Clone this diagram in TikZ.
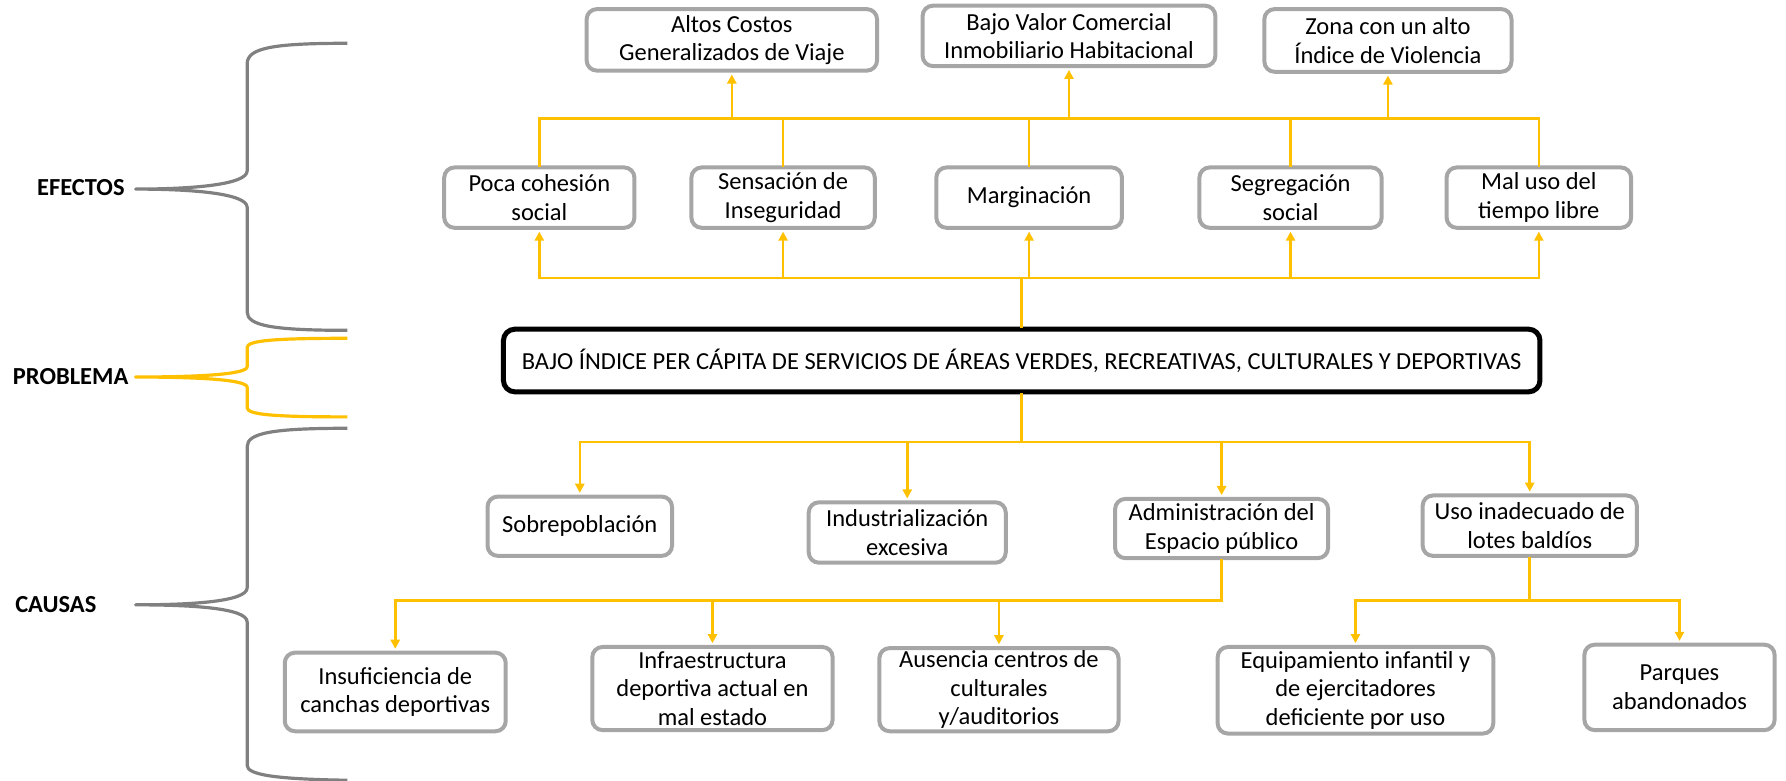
\documentclass[tikz,border=0pt]{standalone}
\usepackage{fontspec}
\setmainfont{Carlito}
\usetikzlibrary{arrows.meta}

\definecolor{amarillo}{HTML}{FFC000}
\definecolor{grisborde}{HTML}{A6A6A6}
\definecolor{grisllave}{HTML}{808080}

\begin{document}
\begin{tikzpicture}[
    x=0.5pt, y=-0.5pt,
    font=\fontsize{10.75pt}{12.5pt}\selectfont,
    caja/.style={
        rectangle,
        draw=grisborde,
        line width=1.75pt,
        rounded corners=4.5pt,
        inner sep=0pt,
        align=center
    },
    central/.style={
        rectangle,
        draw=black,
        line width=2.2pt,
        rounded corners=5pt,
        inner sep=0pt,
        align=center
    },
    etiqueta/.style={font=\fontsize{10.75pt}{12.5pt}\selectfont\bfseries},
    linea/.style={draw=amarillo, line width=1.1pt, line cap=rect},
    flecha/.style={draw=amarillo, line width=1.1pt, shorten >=0.8pt,
        -{Triangle[length=4pt,width=4pt]}},
    llave/.style={line width=1.4pt, line join=round}
]
\useasboundingbox (0,0) rectangle (1568,685);

% Braces
\draw[llave, grisllave] (305,38) .. controls (240,38) and (217,42) .. (217,56)
    -- (217,150) .. controls (217,162) and (170,166) .. (119,166)
    .. controls (170,166) and (217,170) .. (217,182)
    -- (217,274) .. controls (217,286) and (240,290) .. (305,290);
\draw[llave, amarillo] (305,297) .. controls (240,297) and (217,299) .. (217,305)
    -- (217,322) .. controls (217,329) and (170,331) .. (119,331)
    .. controls (170,331) and (217,333) .. (217,340)
    -- (217,358) .. controls (217,364) and (240,366) .. (305,366);
\draw[llave, grisllave] (305,376) .. controls (240,376) and (217,380) .. (217,392)
    -- (217,516) .. controls (217,528) and (170,531) .. (119,531)
    .. controls (170,531) and (217,534) .. (217,546)
    -- (217,672) .. controls (217,680) and (240,684) .. (305,685);

\node[etiqueta] (efectos)  at (71,165) {EFECTOS};
\node[etiqueta] (problema) at (62,331) {PROBLEMA};
\node[etiqueta] (causas)   at (49,531) {CAUSAS};

% Nodes
\node[caja, minimum width=127.5pt, minimum height=27pt] (altos) at (642.5,35) {Altos Costos\\Generalizados de Viaje};
\node[caja, minimum width=128.5pt, minimum height=26.5pt] (bajo) at (938.5,31.5) {Bajo Valor Comercial\\Inmobiliario Habitacional};
\node[caja, minimum width=108.5pt, minimum height=27.5pt] (zona) at (1218.5,35.5) {Zona con un alto\\Índice de Violencia};

\node[caja, minimum width=83.5pt, minimum height=26.5pt] (poca) at (473.5,173.5) {Poca cohesión\\social};
\node[caja, minimum width=80.5pt, minimum height=26.5pt] (sens) at (687.5,173.5) {Sensación de\\Inseguridad};
\node[caja, minimum width=81.5pt, minimum height=26.5pt] (marg) at (903.5,173.5) {Marginación};
\node[caja, minimum width=80pt, minimum height=26.5pt] (segr) at (1133,173.5) {Segregación\\social};
\node[caja, minimum width=81pt, minimum height=26.5pt] (mal) at (1351,173.5) {Mal uso del\\tiempo libre};

\node[central, minimum width=455pt, minimum height=27.5pt] (prob) at (897,316.5) {BAJO ÍNDICE PER CÁPITA DE SERVICIOS DE ÁREAS VERDES, RECREATIVAS, CULTURALES Y DEPORTIVAS};

\node[caja, minimum width=81pt, minimum height=26pt] (sobre) at (509,462) {Sobrepoblación};
\node[caja, minimum width=86.5pt, minimum height=26.5pt] (indus) at (796.5,467.5) {Industrialización\\excesiva};
\node[caja, minimum width=93.5pt, minimum height=26pt] (admin) at (1072.5,464) {Administración del\\Espacio público};
\node[caja, minimum width=94pt, minimum height=26.5pt] (uso) at (1343,461.5) {Uso inadecuado de\\lotes baldíos};

\node[caja, minimum width=97pt, minimum height=34.5pt] (insuf) at (347,607.5) {Insuficiencia de\\canchas deportivas};
\node[caja, minimum width=105.5pt, minimum height=36.5pt] (infra) at (625.5,604.5) {Infraestructura\\deportiva actual en\\mal estado};
\node[caja, minimum width=105pt, minimum height=36.5pt] (ausen) at (877,605.5) {Ausencia centros de\\culturales\\y/auditorios};
\node[caja, minimum width=121pt, minimum height=38pt] (equip) at (1190,606) {Equipamiento infantil y\\de ejercitadores\\deficiente por uso};
\node[caja, minimum width=83.5pt, minimum height=37.5pt] (parq) at (1474.5,603.5) {Parques\\abandonados};

% Arrows
\coordinate (busA) at (0,104);
\coordinate (busB) at (0,244);
\coordinate (busC) at (0,388);
\coordinate (busD) at (0,527);

\draw[linea] (poca.north) |- (busA -| mal.north) -- (mal.north);
\foreach \n in {sens, marg, segr}
    \draw[linea] (\n.north) -- (\n.north |- busA);
\foreach \n in {altos, bajo, zona}
    \draw[flecha] (\n.south |- busA) -- (\n.south);

\draw[linea] (prob.north) -- (prob.north |- busB);
\draw[linea] (busB -| poca.south) -- (busB -| mal.south);
\foreach \n in {poca, sens, marg, segr, mal}
    \draw[flecha] (\n.south |- busB) -- (\n.south);

\draw[linea] (prob.south) -- (prob.south |- busC);
\draw[linea] (busC -| sobre.north) -- (busC -| uso.north);
\foreach \n in {sobre, indus, admin, uso}
    \draw[flecha] (\n.north |- busC) -- (\n.north);

\draw[linea] (admin.south) -- (admin.south |- busD) -- (busD -| insuf.north);
\foreach \n in {insuf, infra, ausen}
    \draw[flecha] (\n.north |- busD) -- (\n.north);
\draw[linea] (uso.south) -- (uso.south |- busD);
\draw[linea] (busD -| equip.north) -- (busD -| parq.north);
\foreach \n in {equip, parq}
    \draw[flecha] (\n.north |- busD) -- (\n.north);

\end{tikzpicture}
\end{document}
